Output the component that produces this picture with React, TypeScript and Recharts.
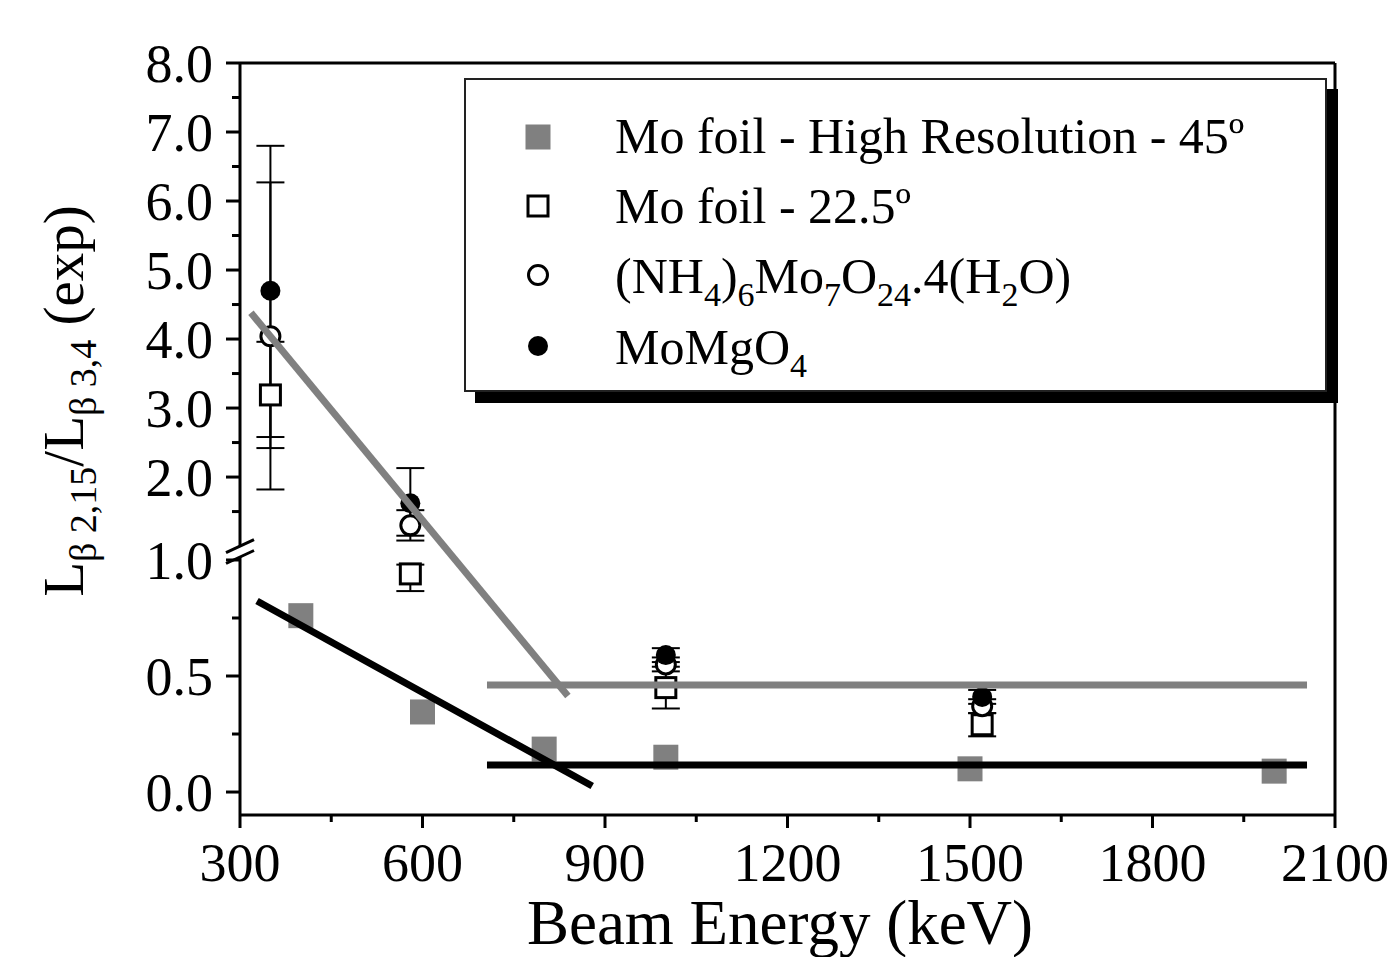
import React from "react";
import { ComposedChart, Scatter, XAxis, YAxis, ErrorBar } from "recharts";

// ---- data (beam energy in keV, ratio) ----
const hrEnergy = [400, 600, 800, 1000, 1500, 2000];
const hrRatio = [0.76, 0.345, 0.185, 0.15, 0.1, 0.09];

const foilEnergy = [350, 580, 1000, 1520];
const foilRatio = [3.19, 0.94, 0.45, 0.29];
const foilErrLow = [0.77, 0.074, 0.09, 0.05];
const foilErrHigh = [0.77, 0.04, 0.09, 0.05];

const ammEnergy = [350, 580, 1000, 1520];
const ammRatio = [4.04, 1.3, 0.55, 0.37];
const ammErrLow = [2.22, 0.22, 0.03, 0.03];
const ammErrHigh = [2.23, 0.22, 0.03, 0.03];

const mgEnergy = [350, 580, 1000, 1520];
const mgRatio = [4.7, 1.62, 0.59, 0.41];
const mgErrLow = [2.12, 0.47, 0.03, 0.03];
const mgErrHigh = [2.1, 0.51, 0.03, 0.03];

// fitted trend lines (end points)
const grayFitEnergy = [318, 839];
const grayFitRatio = [4.38, 0.414];
const grayFlatEnergy = [706, 2054];
const grayFlatRatio = [0.461, 0.461];
const blackFitEnergy = [328, 879];
const blackFitRatio = [0.823, 0.026];
const blackFlatEnergy = [706, 2054];
const blackFlatRatio = [0.116, 0.116];

// ---- axes ----
const xTicks = [300, 600, 900, 1200, 1500, 1800, 2100];
const xMinorTicks = [450, 750, 1050, 1350, 1650, 1950];
const yTicks = [0, 0.5, 1.0, 2.0, 3.0, 4.0, 5.0, 6.0, 7.0, 8.0];
const yMinorTicks = [0.25, 0.75, 1.5, 2.5, 3.5, 4.5, 5.5, 6.5, 7.5];

// broken y axis: 0..1 at full scale, 1..8 compressed above a small gap
const BREAK_AT = 1.0;
const BREAK_GAP = 0.06;
const UPPER_SCALE = 0.2974;
const Y_BOTTOM = -0.099;
const toAxis = (v: number) =>
  v <= BREAK_AT ? v : BREAK_AT + BREAK_GAP + (v - BREAK_AT) * UPPER_SCALE;
const Y_TOP = toAxis(8);

const W = 1391;
const H = 957;
const PLOT = { left: 240, top: 63, right: 1335, bottom: 815 };
// every axis is 1px thick so they all sit on the plot edge; labels spill into the margin
const THIN = 1;
const FONT = '"Liberation Serif", "Times New Roman", serif';
const GRAY = "#808080";

const points = (xs: number[], ys: number[], lo?: number[], hi?: number[]) =>
  xs.map((x, i) => {
    const y = toAxis(ys[i]);
    const p: any = { x, y };
    if (lo && hi) {
      p.err = [y - toAxis(ys[i] - lo[i]), toAxis(ys[i] + hi[i]) - y];
    }
    return p;
  });

const hrData = points(hrEnergy, hrRatio);
const foilData = points(foilEnergy, foilRatio, foilErrLow, foilErrHigh);
const ammData = points(ammEnergy, ammRatio, ammErrLow, ammErrHigh);
const mgData = points(mgEnergy, mgRatio, mgErrLow, mgErrHigh);
const grayFit = points(grayFitEnergy, grayFitRatio);
const grayFlat = points(grayFlatEnergy, grayFlatRatio);
const blackFit = points(blackFitEnergy, blackFitRatio);
const blackFlat = points(blackFlatEnergy, blackFlatRatio);

const GraySquare = (p: any) => (
  <rect x={p.cx - 12.5} y={p.cy - 12.5} width={25} height={25} fill={GRAY} />
);
const OpenSquare = (p: any) => (
  <rect x={p.cx - 10} y={p.cy - 10} width={20} height={20} fill="#fff" stroke="#000" strokeWidth={3} />
);
const OpenCircle = (p: any) => (
  <circle cx={p.cx} cy={p.cy} r={9.5} fill="#fff" stroke="#000" strokeWidth={3} />
);
const FilledCircle = (p: any) => <circle cx={p.cx} cy={p.cy} r={10} fill="#000" />;
const NoDot = () => <g />;
const NoTick = () => <g />;

// x ticks: major and minor share one axis, the tick draws its own mark
const XTick = (p: any) => {
  const v = p.payload.value;
  const major = xTicks.includes(v);
  return (
    <g>
      <line
        x1={p.x}
        x2={p.x}
        y1={PLOT.bottom}
        y2={PLOT.bottom + (major ? 13 : 7)}
        stroke="#000"
        strokeWidth={3}
      />
      {major && (
        <text
          x={p.x}
          y={PLOT.bottom + 28}
          dy="0.71em"
          textAnchor="middle"
          fill="#000"
          fontSize={54}
          fontFamily={FONT}
        >
          {v}
        </text>
      )}
    </g>
  );
};

const yPx = (u: number) =>
  PLOT.top + ((Y_TOP - u) / (Y_TOP - Y_BOTTOM)) * (PLOT.bottom - PLOT.top);

const yLabel = (v: number) => {
  const t = yTicks.find((k) => Math.abs(toAxis(k) - v) < 1e-6);
  return t === undefined ? "" : t.toFixed(1);
};

const tickStyle = { fill: "#000", fontSize: 54, fontFamily: FONT };
const axisLine = { stroke: "#000", strokeWidth: 3 };
const tickLine = { stroke: "#000", strokeWidth: 3 };

const Legend = () => {
  const rows = [
    { y: 57, base: 73 },
    { y: 126, base: 143 },
    { y: 195, base: 213 },
    { y: 266, base: 284 },
  ];
  const sub = { fontSize: 34 };
  return (
    <div
      style={{
        position: "absolute",
        left: 464,
        top: 78,
        width: 859,
        height: 310,
        border: "2px solid #222",
        background: "#fff",
        boxShadow: "11px 11px 0 #000",
      }}
    >
      <svg width={859} height={310} style={{ fontFamily: FONT, fontSize: 50 }}>
        <rect x={72 - 12.5} y={rows[0].y - 12.5} width={25} height={25} fill={GRAY} />
        <rect x={72 - 10} y={rows[1].y - 10} width={20} height={20} fill="#fff" stroke="#000" strokeWidth={3} />
        <circle cx={72} cy={rows[2].y} r={9.5} fill="#fff" stroke="#000" strokeWidth={3} />
        <circle cx={72} cy={rows[3].y} r={10} fill="#000" />
        <text x={149} y={rows[0].base}>Mo foil - High Resolution - 45º</text>
        <text x={149} y={rows[1].base}>Mo foil - 22.5º</text>
        <text x={149} y={rows[2].base}>
          (NH<tspan dy={13} style={sub}>4</tspan>
          <tspan dy={-13}>)</tspan>
          <tspan dy={13} style={sub}>6</tspan>
          <tspan dy={-13}>Mo</tspan>
          <tspan dy={13} style={sub}>7</tspan>
          <tspan dy={-13}>O</tspan>
          <tspan dy={13} style={sub}>24</tspan>
          <tspan dy={-13}>.4(H</tspan>
          <tspan dy={13} style={sub}>2</tspan>
          <tspan dy={-13}>O)</tspan>
        </text>
        <text x={149} y={rows[3].base}>
          MoMgO<tspan dy={13} style={sub}>4</tspan>
        </text>
      </svg>
    </div>
  );
};

const Overlay = () => {
  const yUp = yPx(BREAK_AT + BREAK_GAP);
  const yLow = yPx(BREAK_AT) - 3;
  const sub = { fontSize: 38 };
  return (
    <svg
      width={W}
      height={H}
      style={{ position: "absolute", left: 0, top: 0, pointerEvents: "none", fontFamily: FONT }}
    >
      <rect x={235} y={yUp} width={10} height={yLow - yUp} fill="#fff" />
      <line x1={226} y1={yUp + 6.5} x2={254} y2={yUp - 6.5} stroke="#000" strokeWidth={3} />
      <line x1={226} y1={yLow + 6.5} x2={254} y2={yLow - 6.5} stroke="#000" strokeWidth={3} />
      <text x={780} y={944} textAnchor="middle" fontSize={63}>
        Beam Energy (keV)
      </text>
      <text
        x={0}
        y={0}
        textAnchor="middle"
        fontSize={57}
        transform="translate(83 401) rotate(-90)"
      >
        L<tspan dy={13} style={sub}>β 2,15</tspan>
        <tspan dy={-13}>/L</tspan>
        <tspan dy={13} style={sub}>β 3,4</tspan>
        <tspan dy={-13}> (exp)</tspan>
      </text>
    </svg>
  );
};

export default function App() {
  return (
    <div style={{ position: "absolute", left: 0, top: 0, width: W, height: H, background: "#fff" }}>
      <ComposedChart
        width={W}
        height={H}
        margin={{
          top: PLOT.top - THIN,
          right: W - PLOT.right - THIN,
          left: PLOT.left - 2 * THIN,
          bottom: H - PLOT.bottom - THIN,
        }}
      >
        <XAxis
          dataKey="x"
          type="number"
          domain={[300, 2100]}
          ticks={[...xTicks, ...xMinorTicks].sort((a, b) => a - b)}
          interval={0}
          height={THIN}
          tick={XTick}
          tickLine={false}
          axisLine={axisLine}
          allowDataOverflow
        />
        <XAxis
          xAxisId="top"
          orientation="top"
          type="number"
          domain={[300, 2100]}
          ticks={xTicks}
          height={THIN}
          tick={false}
          tickLine={false}
          axisLine={axisLine}
          allowDataOverflow
        />
        <YAxis
          dataKey="y"
          type="number"
          domain={[Y_BOTTOM, Y_TOP]}
          ticks={yTicks.map(toAxis)}
          interval={0}
          tickFormatter={yLabel}
          width={THIN}
          tickSize={14}
          tickMargin={13}
          tick={tickStyle}
          tickLine={tickLine}
          axisLine={axisLine}
          allowDataOverflow
        />
        <YAxis
          yAxisId="minor"
          type="number"
          domain={[Y_BOTTOM, Y_TOP]}
          ticks={yMinorTicks.map(toAxis)}
          interval={0}
          width={THIN}
          tick={NoTick}
          tickSize={7}
          tickLine={tickLine}
          axisLine={false}
          allowDataOverflow
        />
        <YAxis
          yAxisId="right"
          orientation="right"
          type="number"
          domain={[Y_BOTTOM, Y_TOP]}
          ticks={yTicks.map(toAxis)}
          width={THIN}
          tick={false}
          tickLine={false}
          axisLine={axisLine}
          allowDataOverflow
        />

        <Scatter data={hrData} shape={GraySquare} isAnimationActive={false} />
        <Scatter data={foilData} shape={OpenSquare} isAnimationActive={false}>
          <ErrorBar dataKey="err" direction="y" width={14} stroke="#000" strokeWidth={2} />
        </Scatter>
        <Scatter data={ammData} shape={OpenCircle} isAnimationActive={false}>
          <ErrorBar dataKey="err" direction="y" width={14} stroke="#000" strokeWidth={2} />
        </Scatter>
        <Scatter data={mgData} shape={FilledCircle} isAnimationActive={false}>
          <ErrorBar dataKey="err" direction="y" width={14} stroke="#000" strokeWidth={2} />
        </Scatter>

        <Scatter data={grayFit} shape={NoDot} line={{ stroke: GRAY, strokeWidth: 7 }} isAnimationActive={false} />
        <Scatter data={grayFlat} shape={NoDot} line={{ stroke: GRAY, strokeWidth: 7 }} isAnimationActive={false} />
        <Scatter data={blackFit} shape={NoDot} line={{ stroke: "#000", strokeWidth: 7 }} isAnimationActive={false} />
        <Scatter data={blackFlat} shape={NoDot} line={{ stroke: "#000", strokeWidth: 7 }} isAnimationActive={false} />
      </ComposedChart>
      <Overlay />
      <Legend />
    </div>
  );
}
